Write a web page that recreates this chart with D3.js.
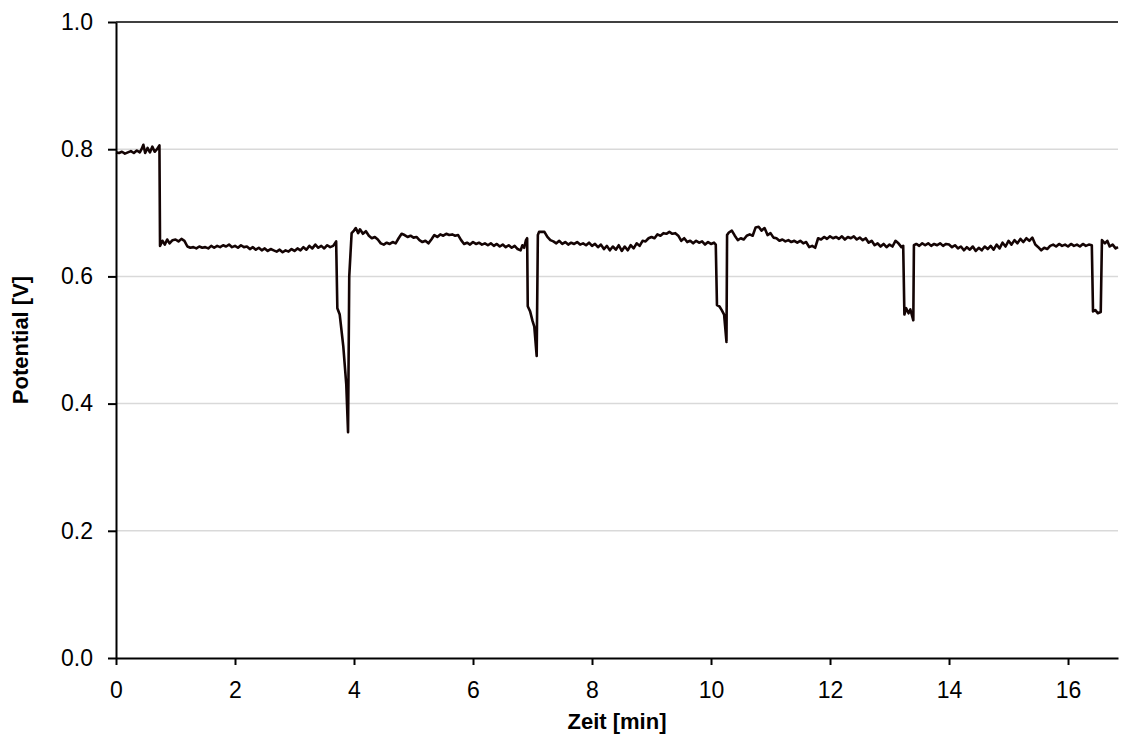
<html>
<head>
<meta charset="utf-8">
<style type="text/css">
	body { margin: 0; background: #fff; }
	svg text { font-family: "Liberation Sans", Arial, sans-serif; fill: #000; }
	.achse path, .achse line { stroke: #000; stroke-width: 2px; }
	.achse text { font-size: 23px; }
	.gitter { stroke: #d9d9d9; stroke-width: 1.5px; }
	.kurve { fill: none; stroke: #140404; stroke-width: 2.6px; stroke-linejoin: round; }
	.titel { font-size: 22px; font-weight: bold; }
</style>
<script src="https://d3js.org/d3.v7.min.js"></script>
</head>
<body>
<script type="text/javascript">

var zeit = [
	0.00,0.05,0.10,0.15,0.20,0.25,0.30,0.35,0.40,0.43,0.46,0.49,0.53,0.57,0.61,0.65,0.69,0.73,
	0.74,0.78,0.82,0.86,0.90,0.95,1.00,1.05,1.10,1.15,1.20,
	1.25,1.30,1.35,1.40,1.45,1.50,1.55,1.60,1.65,1.70,
	1.75,1.80,1.85,1.90,1.95,2.00,2.05,2.10,2.15,2.20,
	2.25,2.30,2.35,2.40,2.45,2.50,2.55,2.60,2.65,2.70,
	2.75,2.80,2.85,2.90,2.95,3.00,3.05,3.10,3.15,3.20,
	3.25,3.30,3.35,3.40,3.45,3.50,3.55,3.60,3.65,3.70,
	3.72,3.76,3.82,3.87,3.90,3.92,3.96,4.00,4.03,4.07,
	4.10,4.15,4.20,4.25,4.30,4.35,4.40,4.45,4.50,4.55,
	4.60,4.65,4.70,4.75,4.80,4.85,4.90,4.95,5.00,5.05,
	5.10,5.15,5.20,5.25,5.30,5.35,5.40,5.45,5.50,5.55,
	5.60,5.65,5.70,5.75,5.80,5.85,5.90,5.95,6.00,6.05,
	6.10,6.15,6.20,6.25,6.30,6.35,6.40,6.45,6.50,6.55,
	6.60,6.65,6.70,6.75,6.80,6.83,6.86,6.89,6.91,
	6.92,6.96,7.00,7.03,7.07,7.09,7.11,7.20,7.25,7.30,7.35,
	7.40,7.45,7.50,7.55,7.60,7.65,7.70,7.75,7.80,7.85,
	7.90,7.95,8.00,8.05,8.10,8.15,8.20,8.25,8.30,8.35,
	8.40,8.45,8.50,8.55,8.60,8.65,8.70,8.75,8.80,8.85,
	8.90,8.95,9.00,9.05,9.10,9.15,9.20,9.25,9.30,9.35,
	9.40,9.45,9.50,9.55,9.60,9.65,9.70,9.75,9.80,9.85,
	9.90,9.95,10.00,10.05,10.08,
	10.10,10.14,10.18,10.22,10.26,10.27,10.30,10.35,10.40,10.45,
	10.50,10.55,10.60,10.65,10.70,10.75,10.80,10.85,10.90,10.95,
	11.00,11.05,11.10,11.15,11.20,11.25,11.30,11.35,11.40,11.45,
	11.50,11.55,11.60,11.65,11.70,11.75,11.80,11.85,11.90,11.95,
	12.00,12.05,12.10,12.15,12.20,12.25,12.30,12.35,12.40,12.45,
	12.50,12.55,12.60,12.65,12.70,12.75,12.80,12.85,12.90,12.95,
	13.00,13.05,13.10,13.15,13.20,13.23,
	13.25,13.28,13.32,13.35,13.40,13.41,13.45,13.50,13.55,13.60,
	13.65,13.70,13.75,13.80,13.85,13.90,13.95,14.00,14.05,14.10,
	14.15,14.20,14.25,14.30,14.35,14.40,14.45,14.50,14.55,14.60,
	14.65,14.70,14.75,14.80,14.85,14.90,14.95,15.00,15.05,15.10,
	15.15,15.20,15.25,15.30,15.35,15.40,15.45,15.50,15.55,15.60,
	15.65,15.70,15.75,15.80,15.85,15.90,15.95,16.00,16.05,16.10,
	16.15,16.20,16.25,16.30,16.35,16.40,
	16.42,16.46,16.50,16.55,16.57,16.62,16.66,16.70,16.75,16.80,16.84
];

var potential = [
	0.795,0.794,0.796,0.793,0.795,0.797,0.794,0.798,0.795,0.800,0.807,0.794,0.802,0.795,0.804,0.796,0.800,0.806,
	0.648,0.656,0.650,0.658,0.652,0.657,0.658,0.655,0.659,0.656,0.647,
	0.645,0.646,0.644,0.647,0.645,0.646,0.644,0.648,0.645,0.648,
	0.646,0.649,0.647,0.650,0.646,0.648,0.645,0.649,0.646,0.647,
	0.643,0.646,0.642,0.645,0.641,0.644,0.640,0.643,0.641,0.639,
	0.642,0.638,0.641,0.639,0.643,0.640,0.644,0.641,0.646,0.642,
	0.648,0.644,0.650,0.645,0.648,0.644,0.649,0.646,0.648,0.655,
	0.550,0.540,0.490,0.430,0.355,0.600,0.668,0.672,0.676,0.668,
	0.674,0.667,0.671,0.664,0.660,0.662,0.658,0.652,0.650,0.653,
	0.651,0.654,0.652,0.660,0.667,0.665,0.662,0.664,0.661,0.662,
	0.657,0.654,0.656,0.652,0.658,0.665,0.662,0.666,0.664,0.667,
	0.665,0.666,0.664,0.665,0.657,0.651,0.653,0.650,0.654,0.651,
	0.653,0.650,0.652,0.649,0.652,0.648,0.651,0.647,0.650,0.646,
	0.649,0.645,0.648,0.643,0.641,0.649,0.645,0.657,0.660,
	0.553,0.545,0.530,0.521,0.475,0.665,0.670,0.670,0.662,0.657,0.655,
	0.652,0.656,0.651,0.654,0.650,0.653,0.651,0.654,0.650,0.652,
	0.649,0.653,0.648,0.651,0.646,0.650,0.643,0.648,0.641,0.647,
	0.642,0.649,0.640,0.647,0.641,0.649,0.644,0.652,0.648,0.656,
	0.655,0.660,0.662,0.660,0.666,0.664,0.668,0.667,0.670,0.667,
	0.668,0.664,0.656,0.660,0.654,0.656,0.652,0.656,0.653,0.655,
	0.650,0.654,0.651,0.653,0.650,
	0.555,0.553,0.547,0.540,0.497,0.665,0.669,0.672,0.664,0.657,
	0.660,0.658,0.664,0.666,0.664,0.677,0.678,0.672,0.676,0.665,
	0.668,0.661,0.660,0.656,0.658,0.655,0.657,0.654,0.656,0.653,
	0.656,0.652,0.654,0.646,0.648,0.645,0.660,0.658,0.662,0.659,
	0.663,0.660,0.662,0.659,0.663,0.658,0.662,0.660,0.663,0.658,
	0.661,0.657,0.660,0.653,0.656,0.649,0.652,0.647,0.651,0.646,
	0.650,0.647,0.656,0.652,0.646,0.648,
	0.540,0.550,0.542,0.548,0.531,0.649,0.651,0.648,0.652,0.649,
	0.652,0.648,0.651,0.649,0.652,0.648,0.651,0.650,0.646,0.649,
	0.644,0.647,0.641,0.646,0.642,0.647,0.640,0.645,0.641,0.647,
	0.643,0.648,0.642,0.650,0.644,0.653,0.647,0.656,0.650,0.657,
	0.652,0.659,0.654,0.660,0.656,0.661,0.650,0.646,0.641,0.645,
	0.643,0.648,0.650,0.647,0.651,0.648,0.650,0.647,0.651,0.648,
	0.650,0.647,0.651,0.648,0.650,0.649,
	0.545,0.547,0.542,0.544,0.657,0.652,0.656,0.647,0.650,0.644,0.646
];

var xTicks = [0, 2, 4, 6, 8, 10, 12, 14, 16];
var yTicks = [0.0, 0.2, 0.4, 0.6, 0.8, 1.0];
var xTitel = 'Zeit [min]';
var yTitel = 'Potential [V]';

var breite = 1121, hoehe = 742;
var links = 116, rechts = 1118, oben = 22, unten = 658;

var x_scale = d3.scaleLinear().domain([0, 16.84]).range([links, rechts]);
var y_scale = d3.scaleLinear().domain([0, 1]).range([unten, oben]);

var svg = d3.select('body').append('svg')
	.attr('width', breite)
	.attr('height', hoehe);

// Gitterlinien
svg.append('g')
	.selectAll('line')
	.data(yTicks.filter(function(d) { return d > 0; }))
	.enter()
	.append('line')
		.attr('class', 'gitter')
		.attr('x1', links)
		.attr('x2', rechts)
		.attr('y1', function(d) { return y_scale(d); })
		.attr('y2', function(d) { return y_scale(d); })
		.style('stroke', function(d) { return d === 1 ? '#000' : null; });

var punkte = zeit.map(function(t, i) { return [t, potential[i]]; });

var linie = d3.line()
	.x(function(d) { return x_scale(d[0]); })
	.y(function(d) { return y_scale(d[1]); });

svg.append('path')
	.datum(punkte)
	.attr('class', 'kurve')
	.attr('d', linie);

svg.append('g')
	.attr('class', 'achse')
	.attr('transform', 'translate(' + links + ',0)')
	.call(d3.axisLeft(y_scale).tickValues(yTicks).tickFormat(d3.format('.1f'))
		.tickSize(8).tickSizeOuter(0).tickPadding(15));

svg.append('g')
	.attr('class', 'achse')
	.attr('transform', 'translate(0,' + unten + ')')
	.call(d3.axisBottom(x_scale).tickValues(xTicks).tickFormat(d3.format('d'))
		.tickSize(7).tickSizeOuter(0).tickPadding(17));

svg.append('text')
	.attr('class', 'titel')
	.attr('x', (links + rechts) / 2)
	.attr('y', 729)
	.attr('text-anchor', 'middle')
	.text(xTitel);

svg.append('text')
	.attr('class', 'titel')
	.attr('transform', 'translate(28,' + (oben + unten) / 2 + ') rotate(-90)')
	.attr('text-anchor', 'middle')
	.text(yTitel);

</script>
</body>
</html>
